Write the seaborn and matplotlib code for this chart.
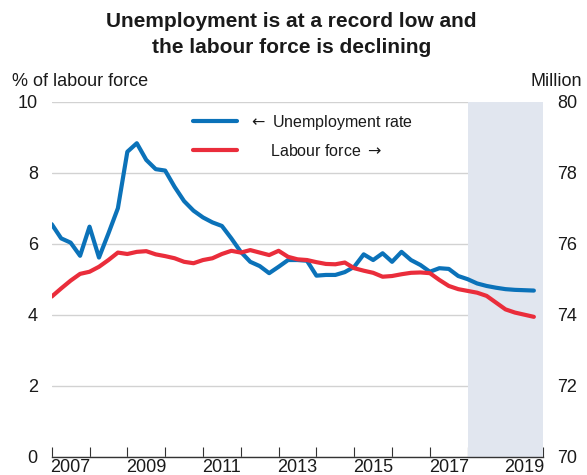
import numpy as np
import pandas as pd
import matplotlib
matplotlib.use("Agg")
import matplotlib.pyplot as plt
from matplotlib.lines import Line2D
import seaborn as sns

# ---------------- data (quarterly, 2007Q1 .. 2019Q4) ----------------
start_year = 2007
unemployment_rate = [6.55, 6.15, 6.03, 5.66, 6.48, 5.61, 6.29, 7.00,
                     8.59, 8.83, 8.36, 8.10, 8.06, 7.60, 7.20, 6.93,
                     6.74, 6.60, 6.50, 6.15, 5.77, 5.49, 5.37, 5.17,
                     5.35, 5.54, 5.54, 5.52, 5.10, 5.12, 5.12, 5.20,
                     5.35, 5.70, 5.54, 5.73, 5.49, 5.77, 5.54, 5.40,
                     5.21, 5.31, 5.29, 5.09, 5.00, 4.88, 4.81, 4.76,
                     4.72, 4.70, 4.69, 4.68]
labour_force = [74.51, 74.74, 74.96, 75.15, 75.21, 75.35, 75.54, 75.75,
                75.71, 75.77, 75.79, 75.70, 75.65, 75.59, 75.49, 75.45,
                75.54, 75.59, 75.71, 75.80, 75.75, 75.82, 75.75, 75.68,
                75.80, 75.63, 75.56, 75.54, 75.48, 75.43, 75.42, 75.47,
                75.31, 75.24, 75.18, 75.07, 75.09, 75.14, 75.18, 75.19,
                75.17, 74.98, 74.81, 74.72, 74.67, 74.62, 74.53, 74.34,
                74.15, 74.06, 74.00, 73.94]
year_labels = [2007, 2009, 2011, 2013, 2015, 2017, 2019]
left_ticks = [0, 2, 4, 6, 8, 10]
right_ticks = [70, 72, 74, 76, 78, 80]
shade_span = (2018, 2020)
title = "Unemployment is at a record low and\nthe labour force is declining"
left_label = "% of labour force"
right_label = "Million"
legend_labels = [r"$\leftarrow$ Unemployment rate",
                 r"     Labour force $\rightarrow$"]

time = [start_year + 0.25 * i for i in range(len(unemployment_rate))]
df = pd.DataFrame({"t": time, "unemp": unemployment_rate, "lf": labour_force})

# ---------------- style ----------------
sns.set_style("white")
plt.rcParams["font.family"] = ["Liberation Sans", "DejaVu Sans"]
plt.rcParams["mathtext.fontset"] = "dejavusans"
BLUE = "#0b72b9"
RED = "#ea2d3b"
TXT = "#1a1a1a"
GRID = "#d2d2d2"
SHADE = "#e1e6ef"

fig = plt.figure(figsize=(5.87, 4.75), dpi=100)
ax = fig.add_axes([0.0881, 0.0385, 0.8375, 0.7474])
ax2 = ax.twinx()

ax.axvspan(*shade_span, color=SHADE, lw=0, zorder=1)
sns.lineplot(data=df, x="t", y="unemp", ax=ax, color=BLUE, lw=3.0,
             legend=False, zorder=3)
sns.lineplot(data=df, x="t", y="lf", ax=ax2, color=RED, lw=3.0,
             legend=False, zorder=3)

ax.set_xlim(start_year, 2020)
ax.set_ylim(0, 10)
ax2.set_ylim(70, 80)
ax.set_xlabel("")
ax.set_ylabel("")
ax2.set_xlabel("")
ax2.set_ylabel("")

ax.set_yticks(left_ticks)
ax2.set_yticks(right_ticks)
ax.grid(axis="y", color=GRID, lw=1.0)
ax.grid(axis="x", visible=False)
ax.set_axisbelow(True)

for a in (ax, ax2):
    for s in ("left", "right", "top"):
        a.spines[s].set_visible(False)
ax2.spines["bottom"].set_visible(False)
ax.spines["bottom"].set_color("#333333")
ax.spines["bottom"].set_linewidth(1.0)
ax.spines["bottom"].set_zorder(4)

ax.tick_params(axis="y", length=0, pad=10, labelsize=13, labelcolor=TXT)
ax2.tick_params(axis="y", length=0, pad=10, labelsize=13, labelcolor=TXT)

# year labels centred in each year
ax.set_xticks([y + 0.5 for y in year_labels])
ax.set_xticklabels([str(y) for y in year_labels])
ax.set_xticks([start_year + 0.25 * q for q in range(0, 53) if q % 4 != 0],
              minor=True)
ax.xaxis.remove_overlapping_locs = False
ax.tick_params(axis="x", which="major", length=0, pad=2, labelsize=13,
               labelcolor=TXT)
ax.tick_params(axis="x", which="minor", direction="in", length=4,
               width=0.8, color="#333333")

# year-boundary ticks
sec = ax.secondary_xaxis("bottom")
sec.set_xticks(list(range(start_year, 2021)))
sec.tick_params(axis="x", direction="in", length=7, width=0.8,
                color="#333333", labelbottom=False)
sec.spines["bottom"].set_visible(False)

# legend
handles = [Line2D([], [], color=BLUE, lw=3.0),
           Line2D([], [], color=RED, lw=3.0)]
leg = fig.legend(handles, legend_labels, loc="upper left",
                 bbox_to_anchor=(193 / 587, 1 - 113 / 475),
                 frameon=False, fontsize=11.5, handlelength=2.75,
                 handletextpad=0.7, labelspacing=0.68, borderpad=0,
                 borderaxespad=0)
for t in leg.get_texts():
    t.set_color(TXT)

# titles & axis captions
fig.text(0.497, 1 - 12 / 475, title, ha="center", va="top", fontsize=15,
         fontweight="bold", color=TXT, linespacing=1.45)
fig.text(11.7 / 587, 1 - 86 / 475, left_label, ha="left", va="baseline",
         fontsize=13, color=TXT)
fig.text(582 / 587, 1 - 86 / 475, right_label, ha="right", va="baseline",
         fontsize=13, color=TXT)

fig.savefig("out.png", dpi=100)
